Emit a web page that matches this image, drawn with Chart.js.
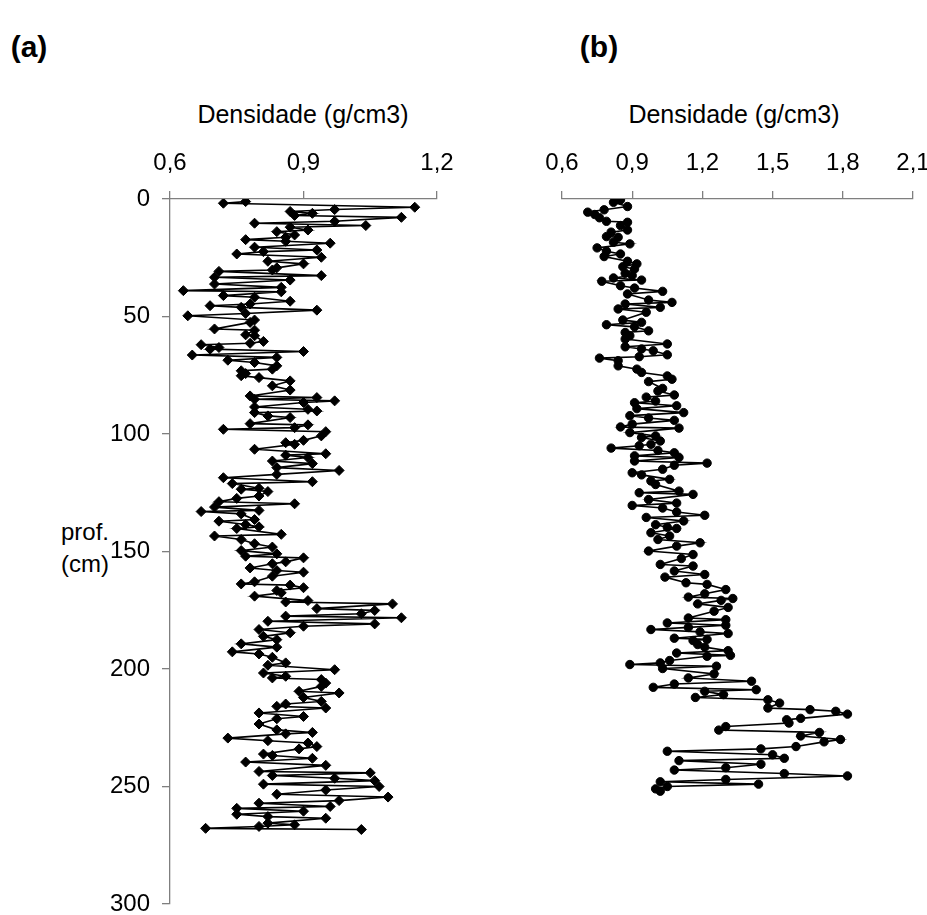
<!DOCTYPE html>
<html>
<head>
<meta charset="utf-8">
<script src="https://cdn.jsdelivr.net/npm/chart.js@4.4.1/dist/chart.umd.min.js"></script>
<style>
    html, body { margin: 0; padding: 0; background: #fff; overflow: hidden; }
    body { width: 927px; height: 915px; position: relative; font-family: "Liberation Sans", Arial, sans-serif; }
    .lbl { position: absolute; color: #000; font-size: 24px; white-space: nowrap; transform: translate(-50%, -50%); line-height: 1; }
    .ttl { font-size: 25px; }
    .panel { font-weight: bold; font-size: 30px; }
    #wrapA { position: absolute; left: 0; top: 0; width: 460px; height: 915px; }
    #wrapB { position: absolute; left: 460px; top: 0; width: 480px; height: 915px; }
</style>
</head>
<body>
<div class="lbl panel" style="left:29px; top:47px;">(a)</div>
<div class="lbl panel" style="left:599px; top:47px;">(b)</div>
<div class="lbl ttl" style="left:303px; top:114px;">Densidade (g/cm3)</div>
<div class="lbl ttl" style="left:734px; top:114px;">Densidade (g/cm3)</div>
<div class="lbl" style="left:85px; top:532px;">prof.</div>
<div class="lbl" style="left:85px; top:564px;">(cm)</div>
<div id="wrapA"><canvas id="chart-a"></canvas></div>
<div id="wrapB"><canvas id="chart-b"></canvas></div>
<script>
// Tick labels
const depthTicks = [0, 50, 100, 150, 200, 250, 300];
const densTicksA = [0.6, 0.9, 1.2];
const densTicksB = [0.6, 0.9, 1.2, 1.5, 1.8, 2.1];

// Core (a): depth (cm) and density (g/cm3)
const depthA = [
    1.1, 1.8, 3.5, 4.5, 5.3, 6.1, 7.0, 7.8, 9.5, 10.3, 11.3, 12.0, 13.2, 13.9, 15.3, 16.3, 17.3, 18.0, 18.8, 20.5,
    21.7, 22.4, 23.4, 24.8, 26.5, 27.6, 29.3, 30.2, 30.8, 32.6, 33.3, 34.5, 36.2, 37.6, 39.0, 39.5, 41.1, 41.8, 43.5, 44.7,
    45.4, 46.1, 47.3, 48.7, 49.7, 51.5, 52.5, 55.3, 55.8, 57.8, 58.2, 60.6, 61.4, 62.0, 63.2, 63.9, 64.9, 66.4, 67.4, 68.6,
    69.6, 71.0, 72.4, 73.1, 74.3, 75.2, 76.0, 77.4, 79.5, 81.3, 83.8, 84.5, 85.2, 85.9, 86.6, 88.5, 89.5, 90.2, 90.9, 92.3,
    93.0, 95.6, 96.1, 97.3, 98.0, 99.0, 100.8, 102.7, 103.7, 104.4, 106.5, 108.4, 109.0, 110.0, 111.5, 112.6, 114.3, 115.5, 117.2, 118.6,
    120.3, 121.1, 123.1, 123.5, 124.5, 126.4, 127.4, 128.8, 129.7, 131.1, 132.5, 133.0, 134.0, 136.4, 137.1, 138.5, 139.5, 140.2, 142.7, 143.4,
    144.9, 146.7, 148.1, 149.6, 151.0, 152.0, 152.7, 154.4, 155.2, 157.0, 158.1, 158.8, 160.5, 162.9, 163.8, 164.3, 165.4, 166.6, 167.6, 169.0,
    170.9, 171.5, 172.3, 174.3, 175.1, 176.5, 177.5, 178.2, 179.7, 180.8, 181.8, 183.2, 184.6, 186.1, 187.5, 189.3, 190.7, 192.7, 193.6, 195.0,
    197.4, 198.4, 200.3, 201.7, 203.1, 203.8, 204.5, 206.0, 207.4, 209.5, 210.2, 212.1, 213.8, 214.9, 215.9, 216.6, 218.7, 220.2, 221.2, 223.4,
    225.9, 227.0, 227.6, 229.4, 230.5, 231.5, 233.0, 234.0, 236.2, 236.8, 238.0, 239.6, 241.0, 243.6, 244.2, 245.3, 246.5, 247.5, 249.0, 250.0,
    251.5, 253.3, 254.5, 256.0, 257.1, 258.5, 259.3, 260.5, 261.8, 262.8, 263.5, 265.6, 266.3, 267.0, 267.8, 268.3
];
const densA = [
    0.77, 0.72, 1.15, 0.97, 0.87, 0.92, 0.88, 1.12, 0.97, 0.79, 1.04, 0.87, 0.91, 0.84, 0.88, 0.86, 0.77, 0.86, 0.96, 0.79,
    0.93, 0.81, 0.75, 0.94, 0.82, 0.90, 0.84, 0.83, 0.71, 0.94, 0.70, 0.87, 0.70, 0.85, 0.63, 0.85, 0.72, 0.79, 0.87, 0.78,
    0.69, 0.76, 0.93, 0.77, 0.64, 0.79, 0.78, 0.70, 0.79, 0.77, 0.79, 0.81, 0.78, 0.67, 0.71, 0.69, 0.90, 0.65, 0.84, 0.73,
    0.79, 0.84, 0.83, 0.76, 0.77, 0.76, 0.80, 0.87, 0.83, 0.87, 0.78, 0.93, 0.79, 0.97, 0.90, 0.79, 0.91, 0.93, 0.79, 0.82,
    0.87, 0.78, 0.91, 0.88, 0.72, 0.95, 0.94, 0.90, 0.86, 0.88, 0.79, 0.95, 0.86, 0.91, 0.83, 0.92, 0.84, 0.98, 0.84, 0.72,
    0.92, 0.74, 0.80, 0.76, 0.82, 0.80, 0.75, 0.71, 0.88, 0.70, 0.80, 0.67, 0.76, 0.79, 0.71, 0.77, 0.80, 0.75, 0.85, 0.70,
    0.76, 0.79, 0.83, 0.76, 0.84, 0.77, 0.90, 0.86, 0.83, 0.78, 0.84, 0.90, 0.83, 0.79, 0.76, 0.87, 0.90, 0.84, 0.85, 0.79,
    0.91, 0.86, 1.10, 0.93, 1.06, 1.03, 0.86, 1.12, 0.82, 1.06, 0.90, 0.80, 0.87, 0.81, 0.84, 0.76, 0.84, 0.74, 0.80, 0.83,
    0.86, 0.82, 0.97, 0.81, 0.86, 0.83, 0.94, 0.95, 0.94, 0.89, 0.98, 0.90, 0.94, 0.86, 0.84, 0.95, 0.80, 0.90, 0.84, 0.80,
    0.84, 0.92, 0.86, 0.73, 0.82, 0.91, 0.93, 0.89, 0.81, 0.83, 0.92, 0.77, 0.95, 0.80, 1.05, 0.83, 0.97, 1.06, 0.81, 1.07,
    0.95, 0.84, 1.09, 0.98, 0.80, 0.96, 0.75, 0.90, 0.75, 0.82, 0.95, 0.82, 0.88, 0.80, 0.68, 1.03
];

// Core (b): depth (cm) and density (g/cm3)
const depthB = [
    0.4, 1.4, 3.2, 4.6, 5.6, 6.6, 8.0, 9.5, 9.9, 11.3, 13.2, 14.1, 16.0, 16.3, 18.4, 19.1, 20.8, 22.2, 23.4, 24.5,
    26.5, 27.6, 28.8, 29.8, 31.6, 32.6, 33.6, 34.5, 35.0, 36.9, 37.9, 39.3, 40.4, 43.0, 44.0, 44.7, 46.1, 46.8, 48.2, 51.5,
    52.5, 53.5, 54.4, 56.1, 56.8, 58.2, 59.6, 61.7, 62.9, 63.8, 64.6, 66.3, 67.1, 67.7, 68.8, 71.0, 72.4, 73.8, 75.3, 76.7,
    77.7, 80.6, 81.7, 83.4, 84.3, 86.0, 86.7, 88.0, 89.2, 90.9, 92.2, 93.2, 94.2, 95.8, 97.0, 97.5, 99.4, 100.8, 101.5, 103.0,
    104.4, 105.0, 106.0, 107.0, 108.0, 109.3, 110.0, 111.5, 112.4, 113.3, 115.0, 116.5, 117.4, 119.3, 120.0, 121.5, 124.3, 125.0, 125.7, 127.9,
    129.4, 130.4, 131.5, 133.2, 134.6, 135.5, 137.0, 138.6, 139.7, 140.2, 142.0, 143.4, 144.9, 146.3, 147.7, 149.8, 151.3, 153.0, 155.5, 156.2,
    158.3, 159.8, 160.9, 163.3, 164.0, 166.2, 168.0, 169.4, 170.0, 170.8, 172.3, 173.8, 175.4, 178.3, 179.0, 180.4, 181.4, 182.3, 183.2, 184.2,
    184.9, 186.9, 187.4, 187.9, 189.6, 190.7, 192.2, 193.2, 194.2, 194.6, 196.4, 197.4, 198.1, 198.8, 199.8, 202.1, 203.8, 205.2, 206.4, 207.8,
    208.8, 209.5, 210.9, 212.1, 213.1, 214.5, 216.6, 217.3, 218.0, 219.2, 221.0, 221.6, 223.0, 224.5, 226.0, 227.0, 228.5, 230.0, 231.0, 233.0,
    234.0, 235.0, 236.5, 238.0, 239.0, 240.5, 242.0, 243.0, 244.5, 245.5, 247.0, 248.0, 249.0, 250.0, 251.0, 252.0
];
const densB = [
    0.85, 0.82, 0.88, 0.78, 0.71, 0.74, 0.76, 0.79, 0.88, 0.85, 0.88, 0.81, 0.79, 0.84, 0.82, 0.89, 0.75, 0.79, 0.85, 0.78,
    0.88, 0.92, 0.86, 0.91, 0.87, 0.90, 0.82, 0.94, 0.77, 0.85, 0.91, 1.03, 0.88, 0.97, 1.07, 0.87, 1.02, 0.84, 0.96, 0.86,
    0.94, 0.79, 0.91, 0.97, 0.87, 0.89, 0.87, 1.05, 0.87, 0.94, 0.99, 1.05, 0.93, 0.76, 0.84, 0.84, 0.92, 0.94, 1.05, 1.07,
    0.97, 1.03, 1.01, 1.08, 0.96, 1.00, 0.91, 1.09, 0.92, 1.12, 0.89, 0.97, 1.08, 0.90, 0.85, 1.10, 0.89, 1.00, 0.94, 1.02,
    0.98, 0.93, 0.81, 1.01, 1.08, 0.91, 1.10, 0.91, 1.22, 1.08, 1.03, 0.90, 0.94, 1.06, 0.98, 1.00, 1.10, 0.93, 1.16, 0.97,
    1.09, 0.90, 1.03, 1.09, 1.21, 0.96, 1.12, 1.00, 1.05, 1.09, 0.98, 1.06, 1.01, 1.19, 1.09, 0.97, 1.16, 1.11, 1.02, 1.16,
    1.08, 1.21, 1.04, 1.13, 1.22, 1.30, 1.21, 1.14, 1.33, 1.28, 1.18, 1.31, 1.25, 1.14, 1.30, 1.05, 1.30, 1.14, 0.98, 1.19,
    1.31, 1.08, 1.22, 1.16, 1.18, 1.21, 1.31, 1.09, 1.32, 1.22, 1.06, 1.02, 0.89, 1.26, 1.03, 1.25, 1.14, 1.41, 1.08, 0.99,
    1.43, 1.21, 1.29, 1.17, 1.48, 1.53, 1.48, 1.66, 1.77, 1.82, 1.62, 1.56, 1.57, 1.30, 1.27, 1.70, 1.62, 1.79, 1.72, 1.60,
    1.45, 1.05, 1.50, 1.55, 1.10, 1.45, 1.30, 1.08, 1.55, 1.82, 1.30, 1.02, 1.44, 1.05, 1.00, 1.02
];

const axisColor = '#7f7f7f';
const fontFamily = "'Liberation Sans', Arial, sans-serif";

/**
 * Format a tick with a decimal comma
 */
function commaTick(value) {
    return value.toFixed(1).replace('.', ',');
}

/**
 * Build one depth profile panel
 */
function renderPanel(canvasId, depth, dens, xTicks, pointStyle, pointRadius, opts) {
    const ctx = document.getElementById(canvasId).getContext('2d');
    const data = depth.map((d, i) => ({ x: dens[i], y: d }));

    return new Chart(ctx, {
        type: 'scatter',
        data: {
            datasets: [{
                data,
                showLine: true,
                borderColor: '#000',
                borderWidth: 1.6,
                backgroundColor: '#000',
                pointBackgroundColor: '#000',
                pointBorderColor: '#000',
                pointBorderWidth: 1,
                pointStyle,
                pointRadius,
                tension: 0
            }]
        },
        options: {
            responsive: true,
            maintainAspectRatio: false,
            animation: false,
            devicePixelRatio: 1,
            layout: { padding: opts.padding },
            plugins: {
                legend: { display: false },
                tooltip: { enabled: false }
            },
            scales: {
                x: {
                    type: 'linear',
                    position: 'top',
                    min: xTicks[0],
                    max: xTicks[xTicks.length - 1],
                    afterBuildTicks: scale => {
                        scale.ticks = xTicks.map(v => ({ value: v }));
                    },
                    // fixed axis box, no label overflow padding
                    afterFit: scale => {
                        scale.height = opts.topHeight;
                        scale.paddingLeft = 0;
                        scale.paddingRight = 0;
                    },
                    grid: {
                        drawOnChartArea: false,
                        drawTicks: true,
                        tickLength: 8,
                        color: axisColor,
                        lineWidth: 1.3
                    },
                    border: { color: axisColor, width: 1.3 },
                    ticks: {
                        color: '#000',
                        padding: 13,
                        maxRotation: 0,
                        font: { family: fontFamily, size: 24 },
                        callback: v => commaTick(v)
                    }
                },
                y: {
                    type: 'linear',
                    display: opts.showY,
                    reverse: true,
                    min: 0,
                    max: 300,
                    afterBuildTicks: scale => {
                        scale.ticks = depthTicks.map(v => ({ value: v }));
                    },
                    afterFit: scale => {
                        scale.width = opts.leftWidth;
                        scale.paddingTop = 0;
                        scale.paddingBottom = 0;
                    },
                    grid: {
                        drawOnChartArea: false,
                        drawTicks: true,
                        tickLength: 8,
                        color: axisColor,
                        lineWidth: 1.3
                    },
                    border: { color: axisColor, width: 1.3 },
                    ticks: {
                        color: '#000',
                        padding: 12,
                        font: { family: fontFamily, size: 24 }
                    }
                }
            }
        }
    });
}

renderPanel('chart-a', depthA, densA, densTicksA, 'rectRot', 5, {
    padding: { left: 0, top: 0, right: 23, bottom: 11 },
    topHeight: 199,
    leftWidth: 170,
    showY: true
});

renderPanel('chart-b', depthB, densB, densTicksB, 'circle', 4.2, {
    padding: { left: 102, top: 0, right: 27, bottom: 11 },
    topHeight: 199,
    leftWidth: 0,
    showY: false
});
</script>
</body>
</html>
